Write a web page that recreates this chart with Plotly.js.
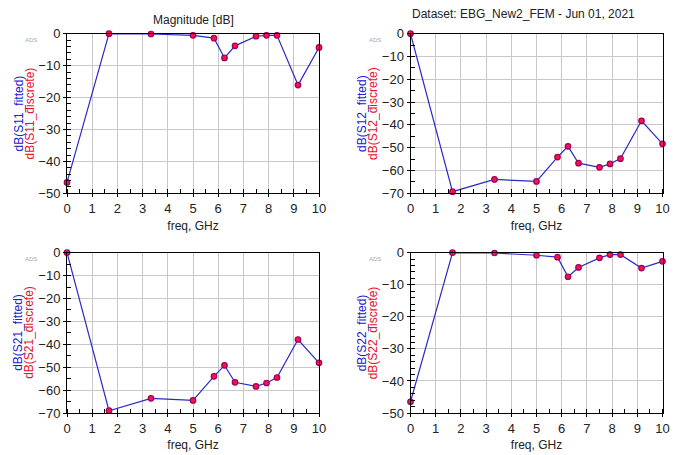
<!DOCTYPE html>
<html>
<head>
<meta charset="utf-8">
<script src="https://cdn.plot.ly/plotly-3.0.1.min.js"></script>
<style>html,body{margin:0;padding:0;background:#fff;}#chart{width:678px;height:455px;}</style>
</head>
<body>
<div id="chart"></div>
<script>
const freq = [0, 1.667, 3.333, 5, 5.833, 6.25, 6.667, 7.5, 7.917, 8.333, 9.167, 10];
const s11 = [-46.6, 0, -0.1, -0.5, -1.4, -7.6, -3.8, -0.8, -0.5, -0.5, -16.1, -4.3];
const s12 = [0, -69.3, -63.9, -64.8, -54.1, -49.4, -56.8, -58.6, -57.1, -54.8, -38.2, -48.3];
const s21 = [0, -69.0, -63.6, -64.5, -54.0, -49.2, -56.6, -58.4, -56.9, -54.5, -37.9, -48.1];
const s22 = [-46.5, 0, -0.1, -0.8, -1.4, -7.5, -4.6, -1.6, -0.6, -0.6, -4.8, -2.7];
const xTicks = [0,1,2,3,4,5,6,7,8,9,10];
const panels = [
  {name:'S11', y:s11, ymin:-50, minorStep:2, yticks:[0,-10,-20,-30,-40,-50]},
  {name:'S12', y:s12, ymin:-70, minorStep:5, yticks:[0,-10,-20,-30,-40,-50,-60,-70]},
  {name:'S21', y:s21, ymin:-70, minorStep:5, yticks:[0,-10,-20,-30,-40,-50,-60,-70]},
  {name:'S22', y:s22, ymin:-50, minorStep:2, yticks:[0,-10,-20,-30,-40,-50]}
];
const W = 678, H = 455;
// pixel boxes [x0,x1,yTop,yBottom]
const boxes = [[67,319,33.7,193.3],[410.5,662.5,33.7,193.3],[67,319,252.7,413],[410.5,662.5,252.7,413]];
const lineColor = '#2a2ac8';
const data = [], layout = {
  width:W, height:H, margin:{l:0,r:0,t:0,b:0}, showlegend:false,
  paper_bgcolor:'#fff', plot_bgcolor:'#fff',
  font:{family:'Liberation Sans, Arial, sans-serif', color:'#222', size:12},
  annotations:[]
};
panels.forEach((p,i)=>{
  const k = i===0 ? '' : String(i+1);
  const b = boxes[i];
  data.push({x:freq, y:p.y, xaxis:'x'+k, yaxis:'y'+k, type:'scatter', mode:'lines',
    line:{color:lineColor, width:1.2}, cliponaxis:false});
  data.push({x:freq, y:p.y, xaxis:'x'+k, yaxis:'y'+k, type:'scatter', mode:'markers',
    marker:{color:'#ff1048', size:5.5, line:{color:'#9a0060', width:1.2}}, cliponaxis:false});
  const common = {showline:true, linecolor:'#000', linewidth:1, mirror:true,
    showgrid:true, gridcolor:'#c8c8c8', gridwidth:1, zeroline:false,
    ticks:'outside', ticklen:3, tickcolor:'#000', tickfont:{size:13, color:'#222'}, fixedrange:true};
  layout['xaxis'+k] = Object.assign({}, common, {
    domain:[b[0]/W, b[1]/W], anchor:'y'+k, range:[0,10], tickvals:xTicks,
    minor:{ticks:'inside', dtick:0.5, tick0:0, ticklen:4, tickcolor:'#000', showgrid:false},
    title:{text:'freq, GHz', font:{size:12, color:'#222'}, standoff:6}
  });
  layout['yaxis'+k] = Object.assign({}, common, {
    domain:[1-b[3]/H, 1-b[2]/H], anchor:'x'+k, range:[p.ymin,0], tickvals:p.yticks,
    minor:{ticks:'inside', dtick:p.minorStep, tick0:0, ticklen:4, tickcolor:'#000', showgrid:false}
  });
  const cy = 1-((b[2]+b[3])/2)/H;
  layout.annotations.push({xref:'paper', yref:'paper', x:(b[0]-49)/W, y:cy, textangle:-90,
    text:'dB('+p.name+'_fitted)', showarrow:false, font:{size:12, color:'#2020d0'}, xanchor:'center', yanchor:'middle'});
  layout.annotations.push({xref:'paper', yref:'paper', x:(b[0]-38)/W, y:cy, textangle:-90,
    text:'dB('+p.name+'_discrete)', showarrow:false, font:{size:12, color:'#e8102a'}, xanchor:'center', yanchor:'middle'});
  layout.annotations.push({xref:'paper', yref:'paper', x:(b[0]-36)/W, y:1-(b[2]+6)/H,
    text:'ADS', showarrow:false, font:{size:6, color:'#aaa'}, xanchor:'center', yanchor:'middle'});
});
layout.annotations.push({xref:'paper', yref:'paper', x:193/W, y:1-20/H, text:'Magnitude [dB]',
  showarrow:false, font:{size:12, color:'#222'}, xanchor:'center', yanchor:'middle'});
layout.annotations.push({xref:'paper', yref:'paper', x:523/W, y:1-14/H, text:'Dataset: EBG_New2_FEM - Jun 01, 2021',
  showarrow:false, font:{size:12, color:'#222'}, xanchor:'center', yanchor:'middle'});
Plotly.newPlot('chart', data, layout, {staticPlot:true, displayModeBar:false});
</script>
</body>
</html>
